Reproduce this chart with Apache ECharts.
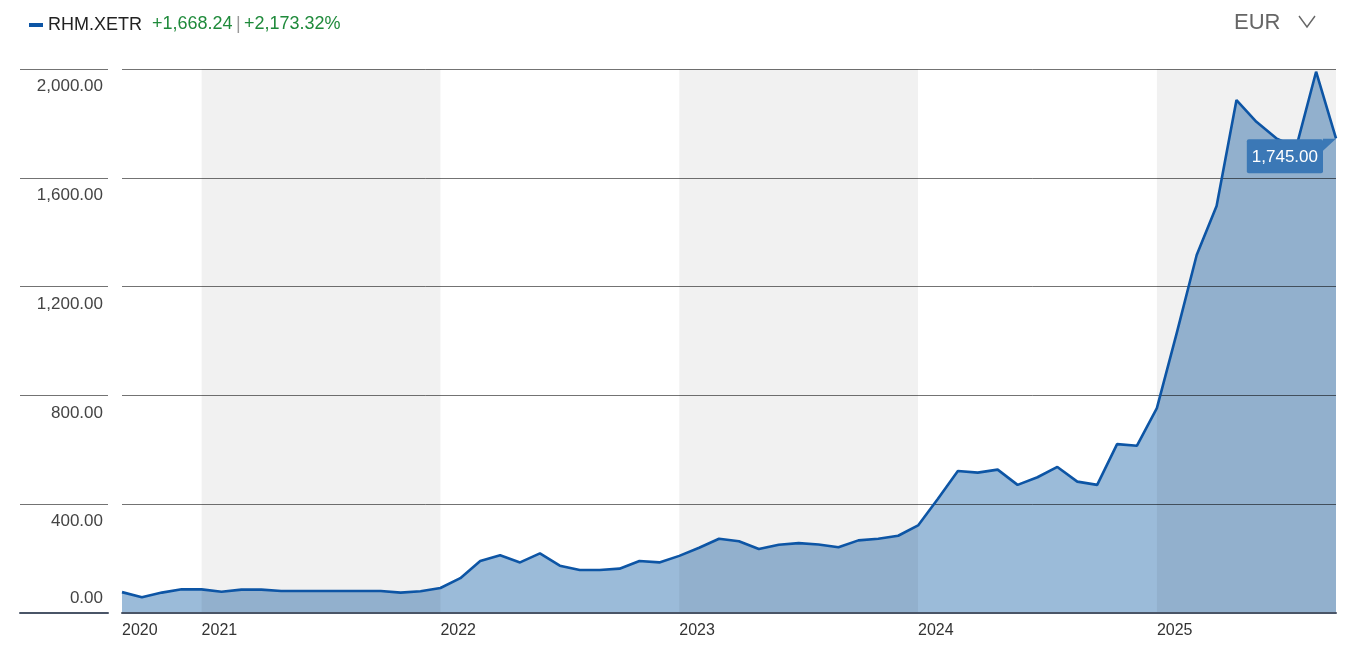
<!DOCTYPE html>
<html><head><meta charset="utf-8">
<script src="https://cdn.jsdelivr.net/npm/echarts@6/dist/echarts.min.js"></script>
<style>html,body{margin:0;padding:0;background:#fff}#c{width:1345px;height:652px}</style>
</head><body><div id="c"></div>
<script>
// ---- data ----
const months = [
  '2020-09','2020-10','2020-11','2020-12',
  '2021-01','2021-02','2021-03','2021-04','2021-05','2021-06','2021-07','2021-08','2021-09','2021-10','2021-11','2021-12',
  '2022-01','2022-02','2022-03','2022-04','2022-05','2022-06','2022-07','2022-08','2022-09','2022-10','2022-11','2022-12',
  '2023-01','2023-02','2023-03','2023-04','2023-05','2023-06','2023-07','2023-08','2023-09','2023-10','2023-11','2023-12',
  '2024-01','2024-02','2024-03','2024-04','2024-05','2024-06','2024-07','2024-08','2024-09','2024-10','2024-11','2024-12',
  '2025-01','2025-02','2025-03','2025-04','2025-05','2025-06','2025-07','2025-08','2025-09','2025-10'
];
const prices = [
  76.76, 58, 75, 87,
  87, 78, 86, 86, 81, 81, 81, 81, 81, 81, 75, 80,
  92, 128, 191, 212, 186, 219, 174, 158, 158, 163, 191, 186,
  210, 240, 273, 264, 235, 251, 257, 252, 242, 267, 273, 284,
  322, 420, 522, 516, 527, 471, 499, 537, 483, 471, 621, 615,
  753, 1030, 1316, 1496, 1886, 1806, 1745, 1712, 1990, 1745.00
];
const shadedYears = [['2021-01','2022-01'],['2023-01','2024-01'],['2025-01','2025-10']];
const yTicks = [0, 400, 800, 1200, 1600, 2000];
const seriesName = 'RHM.XETR';
const changeAbs = '+1,668.24';
const changePct = '+2,173.32%';
const currency = 'EUR';

// ---- styles ----
const FONT = "'Liberation Sans Narrow','Liberation Sans',Arial,sans-serif";
const fmt = v => Number(v).toLocaleString('en-US', {minimumFractionDigits: 2, maximumFractionDigits: 2});
const yMin = yTicks[0], yMax = yTicks[yTicks.length - 1], yStep = yTicks[1] - yTicks[0];
const gridColor = 'rgba(0,0,0,0.55)';
const axisColor = '#4a5567';

const chart = echarts.init(document.getElementById('c'), null, {renderer: 'canvas'});
chart.setOption({
  animation: false,
  backgroundColor: '#fff',
  textStyle: {fontFamily: FONT},
  legend: {
    data: [seriesName], left: 24, top: 11, icon: 'rect', itemWidth: 14, itemHeight: 4, itemGap: 6,
    textStyle: {fontSize: 18, color: '#222', fontFamily: FONT}, selectedMode: false
  },
  graphic: [
    {type: 'text', left: 152, top: 15, style: {
      text: '{g|' + changeAbs + '} {s||} {g|' + changePct + '}', fontFamily: FONT,
      rich: {g: {fill: '#1f8a3b', fontSize: 18, fontFamily: FONT}, s: {fill: '#999', fontSize: 18, fontFamily: FONT}}
    }},
    {type: 'text', left: 1234, top: 12, style: {text: currency, fill: '#666', fontSize: 22, fontFamily: FONT}},
    {type: 'polyline', shape: {points: [[1299, 16], [1307, 27], [1315, 16]]}, style: {stroke: '#666', lineWidth: 1.4, fill: null}}
  ],
  grid: [
    {left: 122, right: 9, top: 69, bottom: 39},
    {left: 20, width: 88, top: 69, bottom: 39}
  ],
  xAxis: [
    {type: 'category', gridIndex: 0, data: months, boundaryGap: false, z: 3,
      axisLine: {show: true, lineStyle: {color: axisColor, width: 2}},
      axisTick: {show: false},
      axisLabel: {
        interval: (i, v) => i === 0 || v.endsWith('-01'),
        formatter: v => v.slice(0, 4), align: 'left', margin: 10,
        fontSize: 16, color: '#333', fontFamily: FONT
      },
      splitLine: {show: false}
    },
    {type: 'value', gridIndex: 1, min: 0, max: 1, show: true, z: 3,
      axisLine: {show: true, lineStyle: {color: axisColor, width: 2}},
      axisTick: {show: false}, axisLabel: {show: false}, splitLine: {show: false}
    }
  ],
  yAxis: [
    {type: 'value', gridIndex: 0, min: yMin, max: yMax, interval: yStep, z: 3,
      axisLine: {show: false}, axisTick: {show: false},
      splitLine: {show: true, lineStyle: {color: gridColor, width: 1}},
      axisLabel: {formatter: v => v === yMin ? '' : fmt(v), verticalAlign: 'top', padding: [9, 0, 0, 0],
        margin: 19, fontSize: 17, color: '#444', fontFamily: FONT}
    },
    {type: 'value', gridIndex: 0, min: yMin, max: yMax, interval: yStep, position: 'left', z: 3,
      axisLine: {show: false}, axisTick: {show: false}, splitLine: {show: false},
      axisLabel: {formatter: v => v === yMin ? fmt(v) : '', verticalAlign: 'bottom', padding: [0, 0, 6, 0],
        margin: 19, fontSize: 17, color: '#444', fontFamily: FONT}
    },
    {type: 'value', gridIndex: 1, min: yMin, max: yMax, interval: yStep, z: 3,
      axisLine: {show: false}, axisTick: {show: false}, axisLabel: {show: false},
      splitLine: {show: true, lineStyle: {color: gridColor, width: 1}}
    }
  ],
  series: [
    {type: 'line', name: 'area', xAxisIndex: 0, yAxisIndex: 0, data: prices, symbol: 'none', silent: true, z: 1,
      lineStyle: {width: 0, opacity: 0}, areaStyle: {color: '#9bbbd9', opacity: 1}},
    {type: 'line', name: 'bands', xAxisIndex: 0, yAxisIndex: 0, data: prices, symbol: 'none', silent: true, z: 2,
      lineStyle: {width: 0, opacity: 0},
      markArea: {silent: true, z: 2, itemStyle: {color: 'rgba(0,0,0,0.055)'},
        data: shadedYears.map(b => [{xAxis: b[0]}, {xAxis: b[1]}])}},
    {type: 'line', name: seriesName, xAxisIndex: 0, yAxisIndex: 0, data: prices, symbol: 'none', z: 5,
      color: '#0d55a5',
      lineStyle: {color: '#0d55a5', width: 2.6},
      endLabel: {show: true, formatter: p => fmt(p.value), color: '#fff', backgroundColor: '#3b78b6',
        padding: [9, 5, 8, 5], borderRadius: 2, fontSize: 17, fontFamily: FONT,
        align: 'right', verticalAlign: 'top', distance: 0, offset: [-13, 1]},
      markPoint: {silent: true, symbol: 'path://M0,0L13,0L0,12Z', symbolSize: [13, 12], symbolOffset: [-6.5, 6.5],
        itemStyle: {color: '#3b78b6'}, label: {show: false},
        data: [{coord: [months.length - 1, prices[prices.length - 1]]}]}
    }
  ]
});
</script></body></html>
